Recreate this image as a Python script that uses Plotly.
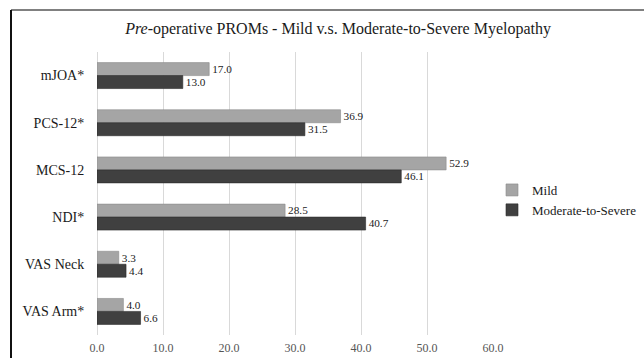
import plotly.graph_objects as go

categories = ["mJOA*", "PCS-12*", "MCS-12", "NDI*", "VAS Neck", "VAS Arm*"]
mild = [17.0, 36.9, 52.9, 28.5, 3.3, 4.0]
moderate = [13.0, 31.5, 46.1, 40.7, 4.4, 6.6]
x_ticks = [0, 10, 20, 30, 40, 50, 60]
x_tick_labels = ["0.0", "10.0", "20.0", "30.0", "40.0", "50.0", "60.0"]

W, H = 644, 358
L, R, T, B = 97, 493, 52, 335  # plot area in px

SERIF = "Times New Roman"

fig = go.Figure()
fig.add_trace(go.Bar(
    y=categories, x=mild, orientation="h", name="Mild",
    marker=dict(color="#a5a5a5", line=dict(color="#8c8c8c", width=0.6)),
    text=[f"{v:.1f}" for v in mild], textposition="outside",
    textfont=dict(family=SERIF, size=13, color="#222"), cliponaxis=False,
))
fig.add_trace(go.Bar(
    y=categories, x=moderate, orientation="h", name="Moderate-to-Severe",
    marker=dict(color="#404040", line=dict(color="#2a2a2a", width=0.6)),
    text=[f"{v:.1f}" for v in moderate], textposition="outside",
    textfont=dict(family=SERIF, size=13, color="#222"), cliponaxis=False,
))

def px_x(p):
    return (p - L) / (R - L)

def px_y(p):
    return (B - p) / (B - T)

fig.update_layout(
    width=W, height=H,
    margin=dict(l=L, r=W - R, t=T, b=H - B, autoexpand=False),
    paper_bgcolor="white", plot_bgcolor="white",
    barmode="group", bargap=0.45, bargroupgap=0,
    font=dict(family=SERIF),
    title=dict(
        text="<i>Pre</i>-operative PROMs - Mild v.s. Moderate-to-Severe Myelopathy",
        x=0.525, xanchor="center", y=1 - 28 / H, yanchor="middle", yref="container",
        font=dict(family=SERIF, size=16, color="#1a1a1a"),
    ),
    xaxis=dict(
        range=[0, 60], tickvals=x_ticks, ticktext=x_tick_labels,
        showgrid=True, gridcolor="#d9d9d9", gridwidth=1,
        zeroline=True, zerolinecolor="#d9d9d9", zerolinewidth=1,
        showline=False, ticks="outside", ticklen=2, tickcolor="white",
        tickfont=dict(family=SERIF, size=12, color="#555"),
        fixedrange=True,
    ),
    yaxis=dict(
        categoryorder="array", categoryarray=categories, autorange="reversed",
        showgrid=False, showline=False, ticks="outside", ticklen=9, tickcolor="white",
        tickfont=dict(family=SERIF, size=14, color="#1a1a1a"),
        fixedrange=True,
    ),
    legend=dict(
        x=px_x(492), y=px_y(200), xanchor="left", yanchor="middle",
        font=dict(family=SERIF, size=13, color="#1a1a1a"),
        bgcolor="rgba(0,0,0,0)", itemwidth=30, tracegroupgap=0,
    ),
    showlegend=True,
    shapes=[
        dict(type="line", xref="paper", yref="paper",
             x0=px_x(11), x1=px_x(W), y0=px_y(10), y1=px_y(10),
             line=dict(color="#808080", width=2)),
        dict(type="line", xref="paper", yref="paper",
             x0=px_x(11), x1=px_x(11), y0=px_y(10), y1=px_y(H),
             line=dict(color="#111", width=2)),
    ],
)

fig.write_html("out.html")
